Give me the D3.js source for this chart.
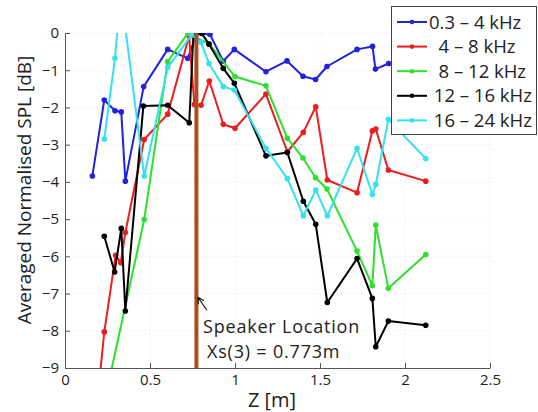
<!DOCTYPE html>
<html>
<head>
<meta charset="utf-8">
<script src="https://cdn.jsdelivr.net/npm/d3@7"></script>
<style>
  body { margin: 0; background: #fff; }
  svg { display: block; font-family: "Open Sans", sans-serif; }
</style>
</head>
<body>
<div id="chart"></div>
<script>
// Band labels (legend order = draw order)
const bands = ["0.3 \u2013 4 kHz", "4 \u2013 8 kHz", "8 \u2013 12 kHz", "12 \u2013 16 kHz", "16 \u2013 24 kHz"];

// Z positions [m] and averaged normalised SPL [dB] per band
const zBlue = [0.161, 0.231, 0.294, 0.331, 0.355, 0.463, 0.604, 0.722, 0.776, 0.853, 0.931, 0.996, 1.182, 1.306, 1.40, 1.474, 1.541, 1.718, 1.809, 1.826, 1.904, 2.122];
const splBlue = [-3.84, -1.80, -2.09, -2.12, -3.98, -1.44, -0.44, -0.68, -0.01, -0.04, -0.76, -0.44, -1.04, -0.75, -1.16, -1.25, -0.90, -0.44, -0.36, -0.97, -0.82, -0.80];

const zRed = [0.19, 0.231, 0.298, 0.328, 0.355, 0.466, 0.604, 0.73, 0.761, 0.80, 0.849, 0.931, 1.0, 1.182, 1.308, 1.402, 1.475, 1.543, 1.718, 1.808, 1.828, 1.902, 2.122];
const splRed = [-9.9, -8.03, -5.97, -6.17, -5.36, -2.86, -2.18, -0.08, -1.92, -1.94, -1.29, -2.45, -2.56, -1.64, -3.19, -2.67, -1.98, -3.95, -4.29, -2.63, -2.58, -3.68, -3.98];

const zGreen = [0.25, 0.466, 0.604, 0.722, 0.85, 1.0, 1.182, 1.308, 1.40, 1.474, 1.541, 1.718, 1.808, 1.828, 1.902, 2.122];
const splGreen = [-9.53, -5.01, -0.77, -0.01, -0.30, -1.17, -1.42, -2.83, -3.36, -3.89, -4.19, -5.86, -6.79, -5.16, -6.86, -5.95];

const zBlack = [0.231, 0.292, 0.331, 0.355, 0.461, 0.604, 0.731, 0.755, 0.804, 0.847, 0.931, 0.996, 1.182, 1.308, 1.402, 1.475, 1.543, 1.718, 1.808, 1.828, 1.902, 2.122];
const splBlack = [-5.46, -6.42, -5.25, -7.47, -1.96, -1.94, -2.41, -0.05, -0.01, -0.30, -0.95, -1.35, -3.30, -3.21, -4.52, -5.14, -7.24, -6.06, -7.13, -8.43, -7.74, -7.85];

const zCyan = [0.231, 0.294, 0.328, 0.466, 0.604, 0.745, 0.80, 0.847, 0.931, 0.996, 1.182, 1.308, 1.402, 1.475, 1.543, 1.718, 1.808, 1.828, 1.902, 2.122];
const splCyan = [-2.85, -0.68, 1.1, -3.84, -0.93, -0.05, -0.25, -0.82, -1.44, -1.53, -3.10, -3.91, -4.91, -4.22, -4.91, -3.10, -4.34, -4.07, -2.32, -3.37];

const speakerZ = 0.773;
const xTicks = [0, 0.5, 1, 1.5, 2, 2.5];
const yTicks = [-9, -8, -7, -6, -5, -4, -3, -2, -1, 0];

const series = [
  { label: bands[0], color: "#2222dd", z: zBlue, v: splBlue },
  { label: bands[1], color: "#ee1c1c", z: zRed, v: splRed },
  { label: bands[2], color: "#2ee02e", z: zGreen, v: splGreen },
  { label: bands[3], color: "#000000", z: zBlack, v: splBlack },
  { label: bands[4], color: "#33e2f0", z: zCyan, v: splCyan },
];

const width = 538;
const height = 412;
const plot = { left: 65, right: 490, top: 33, bottom: 368 };

const svg = d3.select("#chart")
              .append("svg")
              .attr("width", width)
              .attr("height", height);

const x = d3.scaleLinear().domain([0, 2.5]).range([plot.left, plot.right]);
const y = d3.scaleLinear().domain([-9, 0]).range([plot.bottom, plot.top]);

// clip for points that run off the axes
svg.append("clipPath")
   .attr("id", "plotclip")
   .append("rect")
   .attr("x", plot.left)
   .attr("y", plot.top)
   .attr("width", plot.right - plot.left)
   .attr("height", plot.bottom - plot.top);

// faint dotted grid
const grid = svg.append("g").attr("class", "grid");
grid.selectAll(".gx")
    .data(xTicks.slice(1))
    .enter()
    .append("line")
    .attr("x1", d => x(d)).attr("x2", d => x(d))
    .attr("y1", plot.top).attr("y2", plot.bottom)
    .style("stroke", "#e4e4e4")
    .style("stroke-dasharray", "1,3");
grid.selectAll(".gy")
    .data(yTicks.slice(1))
    .enter()
    .append("line")
    .attr("x1", plot.left).attr("x2", plot.right)
    .attr("y1", d => y(d)).attr("y2", d => y(d))
    .style("stroke", "#e4e4e4")
    .style("stroke-dasharray", "1,3");

// Axes (MATLAB style: ticks pointing inward, no box)
const xAxis = svg.append("g")
   .attr("transform", `translate(0,${plot.bottom})`)
   .call(d3.axisBottom(x).tickValues(xTicks).tickFormat(d3.format("")).tickSizeInner(-5).tickSizeOuter(0).tickPadding(6));
const yAxis = svg.append("g")
   .attr("transform", `translate(${plot.left},0)`)
   .call(d3.axisLeft(y).tickValues(yTicks).tickSizeInner(-5).tickSizeOuter(0).tickPadding(6));

[xAxis, yAxis].forEach(a => {
  a.select(".domain").style("stroke", "#555");
  a.selectAll(".tick line").style("stroke", "#555");
  a.selectAll(".tick text")
   .style("font-family", "'Open Sans', sans-serif")
   .style("font-size", "15px")
   .style("fill", "#222");
});

// series lines + markers
const lines = svg.append("g").attr("clip-path", "url(#plotclip)");
const lineGen = d3.line().x(d => x(d[0])).y(d => y(d[1]));

series.forEach(s => {
  const pts = s.z.map((z, i) => [z, s.v[i]]);
  const g = lines.append("g");
  g.append("path")
   .datum(pts)
   .attr("d", lineGen)
   .style("fill", "none")
   .style("stroke", s.color)
   .style("stroke-width", 2)
   .style("stroke-linejoin", "round");
  g.selectAll("circle")
   .data(pts)
   .enter()
   .append("circle")
   .attr("cx", d => x(d[0]))
   .attr("cy", d => y(d[1]))
   .attr("r", 2.8)
   .style("fill", s.color);
});

// speaker location marker
svg.append("line")
   .attr("x1", x(speakerZ)).attr("x2", x(speakerZ))
   .attr("y1", plot.top).attr("y2", plot.bottom)
   .style("stroke", "#ab4d1d")
   .style("stroke-width", 4);

// annotation arrow
const ax = x(speakerZ) + 1.5, ay = y(-7.1);
svg.append("path")
   .attr("d", `M${ax + 9},${ay + 13} L${ax},${ay} M${ax},${ay} l0.5,7 M${ax},${ay} l6,3.5`)
   .style("stroke", "#111")
   .style("stroke-width", 1.2)
   .style("fill", "none");

// two-line annotation
const ann = svg.append("g")
   .style("font-size", "18px")
   .style("letter-spacing", "0.8px")
   .style("fill", "#222");
ann.append("text").attr("x", 203).attr("y", 333).text("Speaker Location");
ann.append("text").attr("x", 207).attr("y", 358).text("Xs(3) = 0.773m");

// axis titles
svg.append("text")
   .attr("x", 272)
   .attr("y", 407)
   .attr("text-anchor", "middle")
   .style("font-size", "20px")
   .style("fill", "#222")
   .text("Z [m]");

svg.append("text")
   .attr("transform", "translate(31,190) rotate(-90)")
   .attr("text-anchor", "middle")
   .style("font-size", "19px")
   .style("fill", "#222")
   .text("Averaged Normalised SPL [dB]");

// Legend
const legend = svg.append("g").attr("class", "legend");
legend.append("rect")
      .attr("x", 391.5)
      .attr("y", 6.5)
      .attr("width", 145)
      .attr("height", 128)
      .style("fill", "#fff")
      .style("stroke", "#444")
      .style("stroke-width", 1);

const legendPad = ["", "  ", "  ", " ", " "];
legend.selectAll("g")
      .data(series)
      .enter()
      .append("g")
      .attr("transform", (d, i) => `translate(0, ${22 + i * 24.6})`)
      .each(function(d, i) {
        const g = d3.select(this);
        g.append("line")
         .attr("x1", 397).attr("x2", 427)
         .style("stroke", d.color)
         .style("stroke-width", 2);
        g.append("circle")
         .attr("cx", 412)
         .attr("r", 2.3)
         .style("fill", d.color);
        g.append("text")
         .attr("x", 429)
         .attr("y", 6.5)
         .style("white-space", "pre")
         .style("font-size", "18.5px")
         .style("fill", "#222")
         .text(legendPad[i] + d.label);
      });
</script>
</body>
</html>
